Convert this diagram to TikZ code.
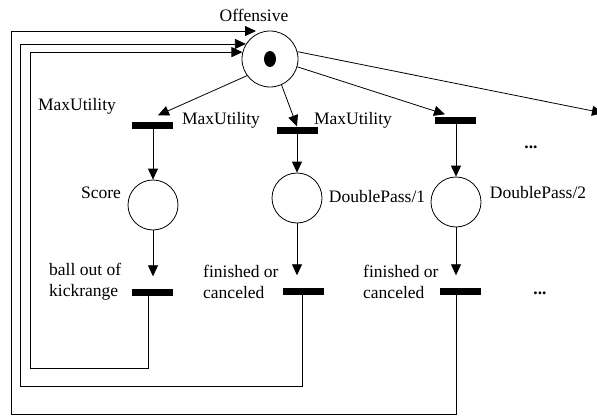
\documentclass[tikz,border=0pt]{standalone}
\usepackage{fontspec}
\setmainfont{Liberation Serif}
\usetikzlibrary{arrows, arrows.meta}
\usetikzlibrary{calc}

\begin{document}
\begin{tikzpicture}[x=1pt, y=-1pt,
    place/.style={circle, draw, minimum size=50pt, inner sep=0pt, line width=0.8pt},
    transbar/.style={rectangle, fill=black, minimum width=41pt, minimum height=7pt, inner sep=0pt},
    flow/.style={line width=0.8pt, -{Triangle[length=11pt, width=10pt]}},
    txt/.style={inner sep=0pt, font=\fontsize{17.5}{21}\selectfont, align=left}]

    \useasboundingbox (0,0) rectangle (597,415);

    % places
    \node [place, minimum size=56pt] (off) at (270,59) {};
    \fill (off) ellipse (6pt and 8pt);
    \node [place] (score) at (153,205) {};
    \node [place] (dp1) at (297,198) {};
    \node [place] (dp2) at (456,202) {};

    % transitions
    \node [transbar] (t1) at (152,125) {};
    \node [transbar] (t2) at (297,130) {};
    \node [transbar] (t3) at (455,120) {};
    \node [transbar] (t4) at (152,292) {};
    \node [transbar] (t5) at (303,291) {};
    \node [transbar] (t6) at (460,291) {};

    \coordinate (rim) at (603,113);
    \coordinate (top3) at (256,31);

    % labels
    \node [txt] (lbloff) at (254,15) {Offensive};
    \node [txt] (lblmu1) at (77,106) {MaxUtility};
    \node [txt] (lblmu2) at (221,120) {MaxUtility};
    \node [txt] (lblmu3) at (353,120) {MaxUtility};
    \node [txt] (lblscore) at (101,193) {Score};
    \node [txt] (lbldp1) at (377,197) {DoublePass/1};
    \node [txt] (lbldp2) at (538,193) {DoublePass/2};
    \node [txt] (dots1) at (531,147) {\textbf{...}};
    \node [txt] (dots2) at (540,293) {\textbf{...}};
    \node [txt, anchor=west] (lblball) at (49,282) {ball out of\\kickrange};
    \node [txt, anchor=west] (lblfin1) at (203,282) {finished or\\canceled};
    \node [txt, anchor=west] (lblfin2) at (363,282) {finished or\\canceled};

    % Offensive -> choices
    \draw [flow] (off.216) -- ($(t1.north)+(6,-6)$);
    \draw [flow] (off.294) -- (t2.north);
    \draw [flow] (off.344) -- ($(t3.north)+(-10,-2)$);
    \draw [flow] (off.15) -- (rim);

    % down the columns
    \draw [flow] (t1.south -| score) -- (score);
    \draw [flow] (t2) -- (dp1);
    \draw [flow] (t3.south -| dp2) -- (dp2);
    \draw [flow, shorten >=12pt] (score) -- (score |- t4.north);
    \draw [flow, shorten >=12pt] (dp1) -- (dp1 |- t5.north);
    \draw [flow, shorten >=12pt] (dp2) -- (dp2 |- t6.north);

    % back to Offensive
    \draw [flow] ([xshift=-4pt]t4.south) |- (30,368) |- (off.166);
    \draw [flow] ([xshift=-1pt]t5.south) |- (20,386) |- (off.148);
    \draw [flow] ([xshift=-4pt]t6.south) |- (11,414) |- (top3);

\end{tikzpicture}
\end{document}
